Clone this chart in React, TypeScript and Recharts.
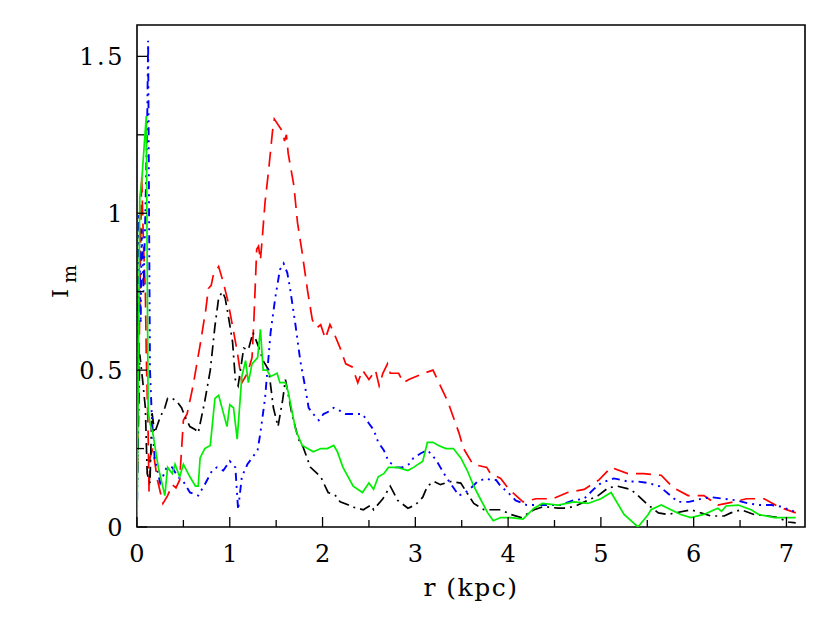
import React from 'react';
import { LineChart, Line, XAxis, YAxis, ReferenceArea } from 'recharts';

const xTicks = [0, 0.5, 1, 1.5, 2, 2.5, 3, 3.5, 4, 4.5, 5, 5.5, 6, 6.5, 7];
const yTicks = [0, 0.25, 0.5, 0.75, 1, 1.25, 1.5];

const redR = [0, 0.02, 0.05, 0.07, 0.09, 0.1, 0.12, 0.13, 0.14, 0.17, 0.22, 0.28, 0.33, 0.38, 0.42, 0.46, 0.5, 0.54, 0.59, 0.61, 0.68, 0.74, 0.77, 0.8, 0.82, 0.88, 0.93, 0.98, 1.03, 1.08, 1.13, 1.19, 1.24, 1.26, 1.29, 1.31, 1.33, 1.35, 1.38, 1.42, 1.46, 1.48, 1.57, 1.59, 1.61, 1.63, 1.69, 1.73, 1.78, 1.84, 1.89, 1.94, 1.98, 2.03, 2.08, 2.12, 2.19, 2.25, 2.32, 2.38, 2.43, 2.5, 2.57, 2.61, 2.65, 2.7, 2.73, 2.82, 2.87, 2.93, 3.09, 3.19, 3.27, 3.35, 3.41, 3.47, 3.52, 3.62, 3.77, 3.81, 3.92, 4.01, 4.16, 4.3, 4.48, 4.64, 4.82, 4.98, 5.11, 5.29, 5.46, 5.65, 5.78, 5.94, 6.11, 6.26, 6.43, 6.57, 6.76, 6.91, 7.1];
const redV = [0.1, 0.5, 1.12, 0.9, 0.75, 0.55, 0.3, 0.11, 0.22, 0.25, 0.15, 0.075, 0.1, 0.135, 0.125, 0.15, 0.34, 0.36, 0.43, 0.46, 0.58, 0.69, 0.76, 0.77, 0.8, 0.83, 0.78, 0.72, 0.64, 0.56, 0.46, 0.49, 0.54, 0.66, 0.885, 0.895, 0.85, 0.92, 1.035, 1.14, 1.26, 1.3, 1.26, 1.23, 1.25, 1.19, 1.09, 0.97, 0.875, 0.75, 0.66, 0.635, 0.645, 0.6, 0.645, 0.62, 0.57, 0.52, 0.51, 0.46, 0.5, 0.47, 0.5, 0.45, 0.49, 0.52, 0.49, 0.49, 0.46, 0.47, 0.49, 0.5, 0.45, 0.4, 0.35, 0.3, 0.25, 0.2, 0.19, 0.17, 0.155, 0.12, 0.08, 0.09, 0.09, 0.11, 0.12, 0.15, 0.19, 0.17, 0.17, 0.165, 0.125, 0.1, 0.1, 0.07, 0.08, 0.09, 0.09, 0.065, 0.045];

const blackR = [0, 0.03, 0.06, 0.09, 0.11, 0.14, 0.16, 0.19, 0.25, 0.3, 0.33, 0.38, 0.43, 0.48, 0.52, 0.57, 0.63, 0.66, 0.73, 0.79, 0.84, 0.88, 0.92, 0.95, 0.98, 1.03, 1.06, 1.09, 1.15, 1.2, 1.25, 1.31, 1.36, 1.42, 1.47, 1.52, 1.57, 1.6, 1.67, 1.74, 1.79, 1.87, 1.98, 2.06, 2.14, 2.19, 2.28, 2.3, 2.38, 2.44, 2.52, 2.55, 2.65, 2.73, 2.81, 2.92, 3.0, 3.08, 3.13, 3.2, 3.27, 3.38, 3.49, 3.63, 3.74, 3.92, 4.03, 4.14, 4.28, 4.38, 4.54, 4.64, 4.75, 4.97, 5.08, 5.18, 5.32, 5.4, 5.49, 5.62, 5.72, 5.97, 6.19, 6.33, 6.4, 6.51, 6.65, 6.8, 6.91, 7.02, 7.1];
const blackV = [0.1, 0.55, 0.47, 0.38, 0.17, 0.14, 0.37, 0.3, 0.35, 0.38, 0.41, 0.41, 0.4, 0.38, 0.35, 0.32, 0.31, 0.3, 0.4, 0.5, 0.64, 0.73, 0.75, 0.73, 0.68, 0.59, 0.47, 0.45, 0.57, 0.565, 0.62, 0.575, 0.53, 0.5, 0.38, 0.32, 0.405, 0.47, 0.36, 0.28, 0.255, 0.19, 0.16, 0.11, 0.1, 0.08, 0.07, 0.065, 0.06, 0.055, 0.07, 0.055, 0.09, 0.13, 0.085, 0.06, 0.07, 0.095, 0.13, 0.145, 0.135, 0.145, 0.14, 0.075, 0.055, 0.055, 0.04, 0.03, 0.055, 0.065, 0.06, 0.06, 0.07, 0.1, 0.125, 0.13, 0.12, 0.1, 0.075, 0.045, 0.04, 0.055, 0.035, 0.035, 0.045, 0.055, 0.04, 0.035, 0.03, 0.016, 0.013];

const blueR = [0, 0.02, 0.04, 0.05, 0.07, 0.09, 0.11, 0.12, 0.13, 0.14, 0.16, 0.19, 0.25, 0.32, 0.38, 0.44, 0.5, 0.57, 0.66, 0.73, 0.81, 0.86, 0.93, 1.0, 1.06, 1.09, 1.13, 1.19, 1.24, 1.3, 1.33, 1.38, 1.44, 1.49, 1.54, 1.58, 1.62, 1.65, 1.71, 1.76, 1.81, 1.85, 1.9, 1.96, 2.01, 2.08, 2.12, 2.19, 2.25, 2.37, 2.43, 2.5, 2.55, 2.6, 2.66, 2.71, 2.79, 2.86, 2.93, 2.98, 3.06, 3.13, 3.22, 3.27, 3.33, 3.4, 3.47, 3.54, 3.62, 3.67, 3.76, 3.81, 3.87, 3.92, 4.0, 4.08, 4.2, 4.32, 4.46, 4.57, 4.7, 4.82, 4.92, 5.0, 5.14, 5.29, 5.4, 5.51, 5.63, 5.73, 5.83, 5.95, 6.08, 6.19, 6.33, 6.46, 6.59, 6.71, 6.84, 6.94, 7.08];
const blueV = [0, 1.0, 0.65, 0.95, 0.75, 1.0, 1.3, 1.55, 1.0, 0.5, 0.35, 0.22, 0.14, 0.19, 0.19, 0.16, 0.145, 0.11, 0.1, 0.135, 0.18, 0.19, 0.18, 0.21, 0.19, 0.055, 0.16, 0.2, 0.22, 0.245, 0.3, 0.41, 0.62, 0.73, 0.82, 0.84, 0.81, 0.76, 0.64, 0.53, 0.45, 0.38, 0.36, 0.34, 0.36, 0.37, 0.38, 0.37, 0.36, 0.36, 0.36, 0.33, 0.31, 0.27, 0.245, 0.21, 0.19, 0.19, 0.2, 0.22, 0.235, 0.245, 0.215, 0.19, 0.16, 0.13, 0.1, 0.11, 0.13, 0.145, 0.155, 0.15, 0.15, 0.13, 0.11, 0.085, 0.07, 0.07, 0.07, 0.07, 0.085, 0.09, 0.12, 0.14, 0.155, 0.145, 0.145, 0.14, 0.13, 0.105, 0.08, 0.08, 0.09, 0.095, 0.09, 0.085, 0.075, 0.07, 0.07, 0.065, 0.05];

const greenR = [0, 0.03, 0.05, 0.1, 0.12, 0.14, 0.17, 0.23, 0.3, 0.33, 0.38, 0.41, 0.46, 0.5, 0.57, 0.63, 0.66, 0.68, 0.73, 0.79, 0.84, 0.88, 0.97, 1.0, 1.04, 1.08, 1.13, 1.17, 1.2, 1.24, 1.3, 1.33, 1.36, 1.4, 1.44, 1.51, 1.54, 1.6, 1.63, 1.71, 1.78, 1.84, 1.9, 1.98, 2.05, 2.12, 2.16, 2.22, 2.33, 2.43, 2.5, 2.55, 2.6, 2.66, 2.71, 2.81, 2.92, 2.98, 3.08, 3.13, 3.19, 3.25, 3.33, 3.41, 3.49, 3.56, 3.63, 3.7, 3.78, 3.84, 3.92, 4.03, 4.16, 4.28, 4.37, 4.54, 4.71, 4.86, 5.0, 5.11, 5.25, 5.4, 5.51, 5.54, 5.65, 5.79, 5.86, 5.97, 6.11, 6.26, 6.3, 6.35, 6.48, 6.62, 6.7, 6.87, 7.1];
const greenV = [0, 1.05, 1.1, 1.31, 0.37, 0.33, 0.3, 0.19, 0.1, 0.19, 0.17, 0.2, 0.16, 0.2, 0.16, 0.13, 0.13, 0.22, 0.25, 0.26, 0.41, 0.42, 0.32, 0.39, 0.38, 0.28, 0.48, 0.53, 0.46, 0.52, 0.54, 0.63, 0.5, 0.5, 0.48, 0.49, 0.46, 0.46, 0.43, 0.31, 0.26, 0.25, 0.24, 0.25, 0.25, 0.26, 0.24, 0.19, 0.13, 0.11, 0.14, 0.12, 0.16, 0.17, 0.19, 0.19, 0.18, 0.19, 0.21, 0.27, 0.27, 0.26, 0.25, 0.25, 0.22, 0.18, 0.13, 0.09, 0.045, 0.02, 0.03, 0.03, 0.025, 0.06, 0.075, 0.07, 0.08, 0.075, 0.09, 0.11, 0.04, 0.0, 0.04, 0.055, 0.07, 0.05, 0.04, 0.03, 0.04, 0.06, 0.05, 0.067, 0.07, 0.055, 0.04, 0.03, 0.03];

const toPts = (rs: number[], vs: number[]) => rs.map((r, i) => ({ r, v: vs[i] }));
const redData = toPts(redR, redV);
const blackData = toPts(blackR, blackV);
const blueData = toPts(blueR, blueV);
const greenData = toPts(greenR, greenV);

const FONT = '"DejaVu Serif", serif';

const XTick = (props: any) => {
  const { x, y, payload } = props;
  const v = payload.value;
  const major = Math.abs(v - Math.round(v)) < 1e-6;
  return (
    <g>
      <line x1={x} x2={x} y1={y} y2={y - (major ? 10 : 7)} stroke="#000" strokeWidth={1.3} />
      {major && (
        <text x={x} y={y + 35} textAnchor="middle" fontFamily={FONT} fontSize={24} fill="#000">
          {String(v)}
        </text>
      )}
    </g>
  );
};

const YTick = (props: any) => {
  const { x, y, payload } = props;
  const v = payload.value;
  const major = Math.abs(v * 2 - Math.round(v * 2)) < 1e-6;
  return (
    <g>
      <line x1={x} x2={x + (major ? 10 : 7)} y1={y} y2={y} stroke="#000" strokeWidth={1.3} />
      {major && (
        <text x={x - 12} y={y} dy="0.36em" textAnchor="end" fontFamily={FONT} fontSize={24} letterSpacing={2.5} fill="#000">
          {String(v)}
        </text>
      )}
    </g>
  );
};

const YLabel = () => (
  <text x={60} y={290} transform="rotate(-90 60 290)" fontFamily={FONT} fontSize={23} fill="#000">
    <tspan>I</tspan>
    <tspan dx={6} dy={8} fontSize={19}>m</tspan>
  </text>
);

export default function App() {
  return (
    <LineChart width={814} height={600} margin={{ top: 17, right: 17, bottom: 0, left: 0 }}>
      <XAxis
        type="number"
        dataKey="r"
        domain={[0, 7.2]}
        ticks={xTicks}
        interval={0}
        allowDataOverflow
        height={81}
        axisLine={false}
        tickLine={false}
        tickSize={0}
        tickMargin={0}
        tick={<XTick />}
        label={{ value: 'r (kpc)', position: 'insideBottom', offset: 12, fontFamily: FONT, fontSize: 25, letterSpacing: 1.5, fill: '#000' }}
      />
      <YAxis
        type="number"
        dataKey="v"
        domain={[0, 1.6]}
        ticks={yTicks}
        interval={0}
        allowDataOverflow
        width={129}
        axisLine={false}
        tickLine={false}
        tickSize={0}
        tickMargin={0}
        tick={<YTick />}
        label={<YLabel />}
      />
      <ReferenceArea x1={0} x2={7.2} y1={0} y2={1.6} fill="none" stroke="#000" strokeWidth={1.6} ifOverflow="visible" />
      <Line data={redData} dataKey="v" type="linear" stroke="#ff0000" strokeWidth={1.7} strokeDasharray="15 8" dot={false} isAnimationActive={false} />
      <Line data={blackData} dataKey="v" type="linear" stroke="#000000" strokeWidth={1.7} strokeDasharray="11 5 2 5" dot={false} isAnimationActive={false} />
      <Line data={blueData} dataKey="v" type="linear" stroke="#0000ff" strokeWidth={1.9} strokeDasharray="8 5 2 5 2 5" dot={false} isAnimationActive={false} />
      <Line data={greenData} dataKey="v" type="linear" stroke="#00ee00" strokeWidth={1.7} dot={false} isAnimationActive={false} />
    </LineChart>
  );
}
